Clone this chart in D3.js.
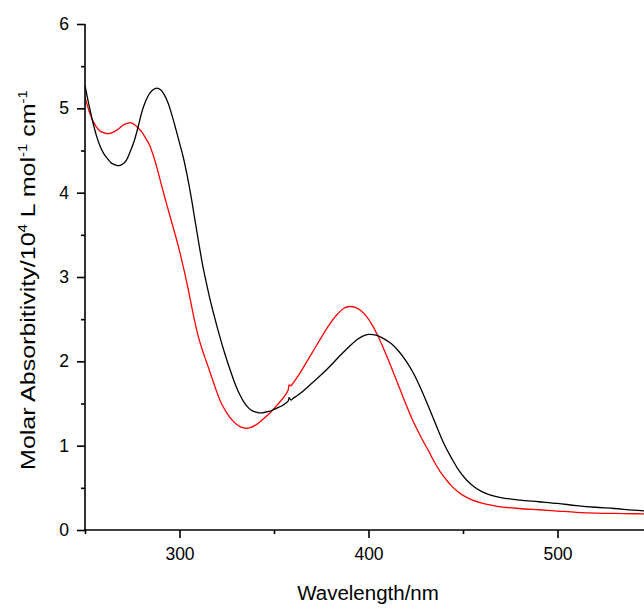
<!DOCTYPE html>
<html>
<head>
<meta charset="utf-8">
<script src="https://cdn.jsdelivr.net/npm/d3@7"></script>
<style>
  body { margin: 0; background: #fff; }
  text { font-family: "Liberation Sans", Arial, sans-serif; fill: #000; }
</style>
</head>
<body>
<div class="graph-container"></div>
<script>
// wavelength (nm) and molar absorbitivity (10^4 L mol-1 cm-1)
var blackWl = [250, 252, 254, 256, 258, 260, 262, 264, 266, 268, 270, 272, 274, 276, 278, 280, 282, 284, 286, 288,
  290, 292, 294, 296, 298, 300, 302, 304, 306, 308, 310, 312, 314, 316, 318, 320, 322, 324, 326, 328,
  330, 332, 334, 336, 338, 340, 342, 344, 346, 348, 350, 352, 354, 356, 357.5, 358, 359, 360, 362,
  365, 370, 375, 380, 385, 390, 394, 397, 400, 404, 408, 412, 416, 420, 424, 428, 432, 436, 440, 444,
  448, 452, 456, 460, 465, 470, 480, 490, 500, 510, 520, 530, 540, 550];
var blackAbs = [5.27, 5.05, 4.85, 4.68, 4.55, 4.46, 4.40, 4.35, 4.33, 4.32, 4.34, 4.39, 4.49, 4.61, 4.77, 4.95, 5.08, 5.17, 5.22, 5.24,
  5.22, 5.16, 5.06, 4.92, 4.76, 4.59, 4.42, 4.21, 3.97, 3.70, 3.43, 3.17, 2.95, 2.75, 2.57, 2.40, 2.24, 2.09, 1.95, 1.82,
  1.70, 1.60, 1.52, 1.46, 1.42, 1.40, 1.39, 1.39, 1.40, 1.41, 1.43, 1.45, 1.47, 1.50, 1.53, 1.57, 1.54, 1.56, 1.59,
  1.64, 1.74, 1.84, 1.95, 2.07, 2.18, 2.26, 2.30, 2.32, 2.31, 2.27, 2.21, 2.12, 2.00, 1.85, 1.66, 1.45, 1.23, 1.02, 0.85,
  0.70, 0.59, 0.51, 0.455, 0.41, 0.385, 0.355, 0.335, 0.315, 0.29, 0.27, 0.255, 0.235, 0.22];

var redWl = [250, 252, 254, 256, 258, 260, 262, 264, 266, 268, 270, 272, 274, 276, 278, 280, 282, 284, 286, 288,
  290, 292, 294, 296, 298, 300, 302, 304, 306, 308, 310, 312, 314, 316, 318, 320, 322, 325, 328, 331,
  334, 337, 340, 344, 348, 352, 356, 357.5, 358, 359, 360, 364, 368, 372, 376, 380, 384, 387, 390, 393,
  396, 399, 402, 405, 408, 411, 414, 417, 420, 423, 426, 429, 432, 435, 438, 441, 444, 447, 450, 455,
  460, 465, 470, 480, 490, 500, 510, 520, 535, 550];
var redAbs = [5.13, 4.98, 4.86, 4.78, 4.73, 4.71, 4.70, 4.71, 4.73, 4.76, 4.80, 4.82, 4.83, 4.81, 4.77, 4.72, 4.65, 4.57, 4.45, 4.30,
  4.13, 3.96, 3.80, 3.64, 3.48, 3.31, 3.12, 2.92, 2.70, 2.48, 2.29, 2.14, 2.01, 1.88, 1.75, 1.62, 1.51, 1.39, 1.30, 1.24,
  1.21, 1.21, 1.24, 1.31, 1.39, 1.49, 1.60, 1.66, 1.72, 1.71, 1.74, 1.87, 2.02, 2.17, 2.32, 2.46, 2.57, 2.63, 2.65, 2.64,
  2.60, 2.53, 2.43, 2.30, 2.15, 1.99, 1.82, 1.65, 1.48, 1.32, 1.18, 1.05, 0.93, 0.80, 0.69, 0.60, 0.52, 0.46, 0.41, 0.355,
  0.32, 0.295, 0.275, 0.255, 0.24, 0.225, 0.21, 0.20, 0.195, 0.19];

var xMajor = [300, 400, 500];
var xMinor = [250, 350, 450, 550];
var yMajor = [0, 1, 2, 3, 4, 5, 6];
var yMinor = [0.5, 1.5, 2.5, 3.5, 4.5, 5.5];

var width = 644, height = 610;

var svg = d3.select(".graph-container").append("svg")
  .attr("width", width)
  .attr("height", height);

var x = d3.scaleLinear().domain([250, 550]).range([85, 652]);
var y = d3.scaleLinear().domain([0, 6]).range([530, 24]);

svg.append("clipPath").attr("id", "plot")
  .append("rect")
  .attr("x", 85).attr("y", 0)
  .attr("width", 600).attr("height", 531);

function toPoints(wl, abs) {
  return wl.map(function(d, i) { return [d, abs[i]]; });
}

var line = d3.line()
  .x(function(d) { return x(d[0]); })
  .y(function(d) { return y(d[1]); })
  .curve(d3.curveCatmullRom.alpha(0.5));

svg.append("path")
  .attr("clip-path", "url(#plot)")
  .attr("d", line(toPoints(redWl, redAbs)))
  .attr("fill", "none")
  .attr("stroke", "#ff0000")
  .attr("stroke-width", 1.3);

svg.append("path")
  .attr("clip-path", "url(#plot)")
  .attr("d", line(toPoints(blackWl, blackAbs)))
  .attr("fill", "none")
  .attr("stroke", "#000")
  .attr("stroke-width", 1.3);

// x axis
svg.append("g")
  .attr("class", "x-axis")
  .attr("transform", "translate(0,530)")
  .call(d3.axisBottom(x).tickValues(xMajor).tickSize(8).tickPadding(10).tickFormat(d3.format("d")));
svg.append("g")
  .attr("transform", "translate(0,530)")
  .call(d3.axisBottom(x).tickValues(xMinor).tickSize(4).tickFormat(""))
  .select(".domain").remove();

// y axis
svg.append("g")
  .attr("class", "y-axis")
  .attr("transform", "translate(85,0)")
  .call(d3.axisLeft(y).tickValues(yMajor).tickSize(8).tickPadding(8).tickFormat(d3.format("d")));
svg.append("g")
  .attr("transform", "translate(85,0)")
  .call(d3.axisLeft(y).tickValues(yMinor).tickSize(4).tickFormat(""))
  .select(".domain").remove();

svg.select(".x-axis .domain").attr("d", "M84,0H700");
svg.select(".y-axis .domain").attr("d", "M0,24V531");
svg.selectAll(".domain").attr("stroke-width", 1.6);
svg.selectAll(".tick line").attr("stroke-width", 1.6);
svg.selectAll(".tick text")
  .style("font-family", "'Liberation Sans', Arial, sans-serif")
  .style("font-size", "17.5px");

// axis titles
svg.append("text")
  .attr("x", 368)
  .attr("y", 600)
  .attr("text-anchor", "middle")
  .style("font-size", "20.5px")
  .text("Wavelength/nm");

var yTitle = svg.append("text")
  .attr("transform", "translate(35,280) scale(1,1.25) rotate(-90)")
  .attr("text-anchor", "middle")
  .style("font-size", "20px");
yTitle.append("tspan").text("Molar Absorbitivity/10");
yTitle.append("tspan").attr("dy", -8).style("font-size", "12px").text("4");
yTitle.append("tspan").attr("dy", 8).text(" L mol");
yTitle.append("tspan").attr("dy", -8).style("font-size", "12px").text("-1");
yTitle.append("tspan").attr("dy", 8).text(" cm");
yTitle.append("tspan").attr("dy", -8).style("font-size", "12px").text("-1");
</script>
</body>
</html>
